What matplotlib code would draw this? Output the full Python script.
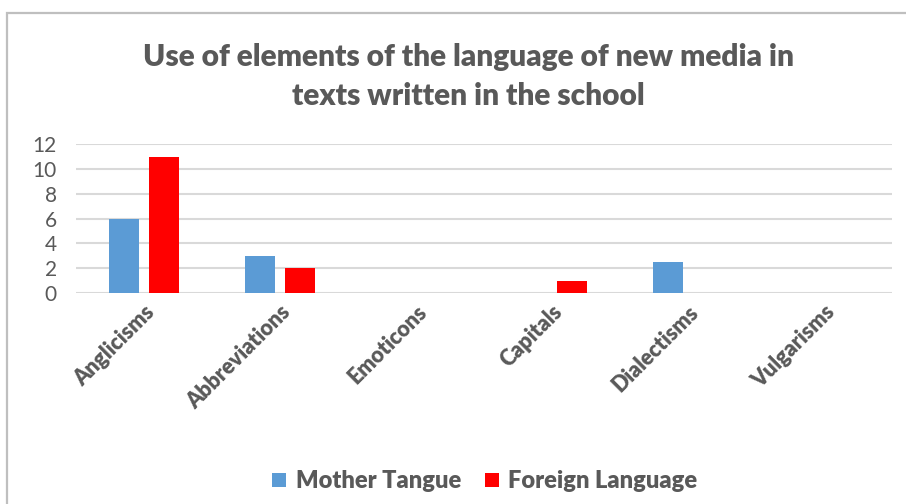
import numpy as np
import matplotlib
matplotlib.use('Agg')
import matplotlib.pyplot as plt
from matplotlib.patches import Rectangle

# Data
categories = ['Anglicisms', 'Abbreviations', 'Emoticons', 'Capitals', 'Dialectisms', 'Vulgarisms']
mother_tongue = [6, 3, 0, 0, 2.5, 0]
foreign_language = [11, 2, 0, 1, 0, 0]
series_names = ['Mother Tangue', 'Foreign Language']
y_ticks = [0, 2, 4, 6, 8, 10, 12]

plt.rcParams['font.family'] = ['Lato', 'DejaVu Sans']
grey = '#595959'
blue = '#5B9BD5'
red = '#FF0000'
heavy = 'heavy'

fig = plt.figure(figsize=(9.06, 5.04), dpi=100)
ax = fig.add_axes([0.084, 0.4187, 0.9005, 0.2953])

x = np.arange(len(categories))
w = 0.22
ax.bar(x - 0.145, mother_tongue, w, color=blue, label=series_names[0], zorder=3)
ax.bar(x + 0.145, foreign_language, w, color=red, label=series_names[1], zorder=3)

ax.set_xlim(-0.5, len(categories) - 0.5)
ax.set_ylim(0, 12)
ax.set_yticks(y_ticks)
ax.yaxis.grid(True, color='#D9D9D9', linewidth=1.5, zorder=0)
ax.set_axisbelow(True)
for s in ax.spines.values():
    s.set_visible(False)
ax.tick_params(axis='both', length=0, colors=grey)
ax.tick_params(axis='y', labelsize=15, pad=14)
ax.set_xticks(x)
ax.set_xticklabels(categories, rotation=45, ha='right', rotation_mode='anchor',
                   fontsize=15.5, fontweight=heavy, color=grey)
ax.tick_params(axis='x', pad=6)

fig.text(0.517, 0.848, 'Use of elements of the language of new media in\ntexts written in the school',
         ha='center', va='center', fontsize=21.5, fontweight=heavy, color=grey, linespacing=1.5)

leg = fig.legend(loc='center', bbox_to_anchor=(0.535, 0.045), ncol=2, frameon=False,
                 prop={'size': 17, 'weight': heavy}, handlelength=0.6, handleheight=0.6,
                 handletextpad=0.4, columnspacing=1.0)
for t in leg.get_texts():
    t.set_color(grey)

# chart border
fig.patches.append(Rectangle((6.5 / 906, -0.1), 1.2, 1.1 - 13.5 / 504, transform=fig.transFigure,
                             fill=False, edgecolor='#BFBFBF', linewidth=1.6))

fig.savefig('out.png', dpi=100)
